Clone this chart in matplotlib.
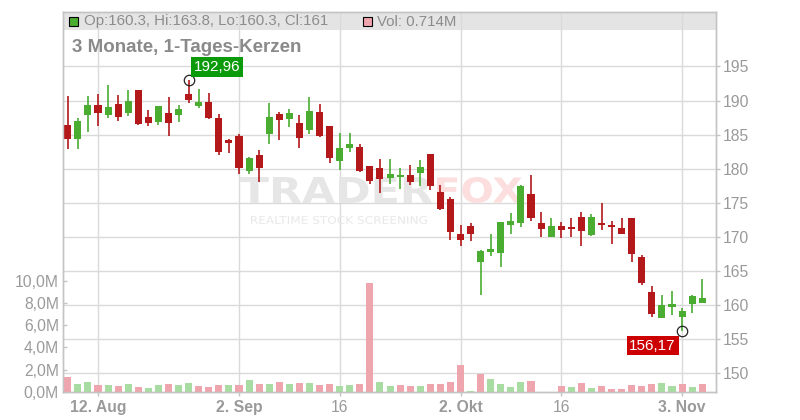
import matplotlib
matplotlib.use('Agg')
import matplotlib.pyplot as plt
from matplotlib.patches import Rectangle, PathPatch
from matplotlib.textpath import TextPath
from matplotlib.font_manager import FontProperties
from matplotlib.transforms import Affine2D

# ---------------- data ----------------
opens = [186.4, 184.4, 187.9, 189.35, 187.9, 189.5, 188.2, 191.55, 187.6, 186.85,
         188.2, 187.9, 190.9, 189.25, 189.8, 187.45, 184.2, 184.8, 179.7, 182.0,
         185.05, 188.05, 187.35, 186.7, 185.75, 188.35, 186.25, 181.2, 183.1, 183.2,
         180.4, 180.1, 178.7, 178.8, 179.1, 179.4, 182.15, 176.6, 175.55, 170.4,
         171.6, 166.35, 167.85, 167.7, 171.8, 172.0, 176.3, 172.0, 170.05, 171.6,
         171.45, 172.95, 170.35, 172.1, 171.8, 171.3, 172.85, 167.05, 161.9, 158.15,
         159.7, 158.3, 160.2, 160.3]
highs = [190.6, 187.5, 190.7, 191.0, 192.3, 190.8, 191.55, 191.6, 188.6, 189.2,
         190.55, 189.35, 192.96, 191.65, 191.1, 188.05, 184.35, 185.1, 181.75, 182.75,
         189.65, 188.3, 188.7, 187.9, 190.55, 189.5, 186.3, 185.3, 185.3, 183.65,
         180.45, 181.45, 181.45, 180.1, 180.55, 181.3, 182.2, 177.6, 175.8, 171.75,
         172.0, 168.1, 170.5, 172.25, 173.55, 177.6, 179.1, 173.7, 172.85, 172.25,
         172.85, 173.7, 173.3, 175.0, 172.4, 172.85, 172.85, 167.3, 162.8, 161.5,
         162.05, 159.6, 161.5, 163.8]
lows = [182.9, 182.9, 185.4, 186.3, 187.5, 187.0, 187.8, 186.45, 186.3, 186.45,
        184.8, 186.85, 189.7, 188.95, 187.35, 182.05, 182.35, 179.2, 179.3, 178.1,
        183.7, 184.2, 186.15, 183.1, 185.05, 184.6, 180.9, 179.8, 182.5, 179.55,
        177.8, 176.5, 177.8, 177.0, 177.6, 177.45, 176.9, 173.95, 169.55, 168.7,
        169.45, 161.55, 167.2, 165.65, 170.45, 171.5, 172.4, 170.05, 170.05, 169.9,
        170.05, 168.65, 170.2, 171.0, 168.95, 170.45, 166.3, 162.95, 158.3, 158.15,
        158.55, 156.17, 158.9, 160.3]
closes = [184.4, 187.0, 189.35, 188.2, 189.05, 187.65, 190.0, 186.55, 186.75, 189.2,
          186.75, 188.75, 190.1, 189.8, 187.5, 182.5, 183.8, 180.15, 181.6, 180.15,
          187.6, 187.2, 188.2, 184.55, 188.45, 184.85, 181.65, 183.05, 183.65, 179.7,
          178.25, 178.45, 179.25, 179.1, 178.1, 180.25, 177.5, 174.1, 170.75, 169.6,
          170.45, 167.95, 168.25, 172.2, 172.4, 177.45, 172.8, 171.1, 171.6, 171.0,
          171.2, 170.85, 172.95, 171.75, 171.5, 170.45, 167.5, 163.25, 158.7, 160.0,
          160.15, 159.15, 161.35, 161.0]
volumes = [1.38, 0.75, 0.93, 0.66, 0.66, 0.57, 0.75, 0.48, 0.39, 0.63,
           0.75, 0.66, 0.84, 0.57, 0.48, 0.66, 0.66, 0.66, 1.11, 0.75,
           0.75, 0.93, 0.75, 0.84, 0.84, 0.66, 0.75, 0.57, 0.66, 0.75,
           9.82, 0.93, 0.57, 0.66, 0.57, 0.57, 0.75, 0.75, 0.93, 2.45,
           0.12, 1.65, 1.18, 0.74, 0.47, 0.92, 1.0, 0.0, 0.0, 0.56,
           0.47, 0.83, 0.38, 0.56, 0.29, 0.29, 0.65, 0.56, 0.74, 0.83,
           0.56, 0.74, 0.47, 0.714]
date_tick_idx = [3, 17, 27, 39, 49, 61]
date_tick_labels = ['12. Aug', '2. Sep', '16', '2. Okt', '16', '3. Nov']
date_tick_bold = [True, True, False, True, False, True]
price_ticks = [150, 155, 160, 165, 170, 175, 180, 185, 190, 195]
vol_ticks = [0, 2, 4, 6, 8, 10]
vol_tick_labels = ['0,0M', '2,0M', '4,0M', '6,0M', '8,0M', '10,0M']
title_text = '3 Monate, 1-Tages-Kerzen'

# ---------------- style ----------------
plt.rcParams['font.family'] = ['Liberation Sans', 'DejaVu Sans']
GREEN = '#4aad32'
RED = '#b3181b'
VGREEN = '#a9dca2'
VRED = '#efa5ad'
GRID = '#dadada'
SPINE = '#c4c4c4'
TXT = '#9a9a9a'

W, H = 800, 420
L, R, T, B = 63, 716, 12, 392
fig = plt.figure(figsize=(W / 100, H / 100), dpi=100)
ax = fig.add_axes([L / W, 1 - B / H, (R - L) / W, (B - T) / H])
ax.set_xlim(-0.477, 64.37)
ax.set_ylim(147.26, 202.99)
ax2 = ax.twinx()
ax2.set_ylim(0, 34.14)


def pax(x, y):
    """pixel (top-left origin) -> axes fraction"""
    return ((x - L) / (R - L), (B - y) / (B - T))


def stretched_text(a, s, x0, x1, ytop, ybot, color, weight='bold', z=0.6):
    """Draw text stretched to fill a pixel box (top-left origin)."""
    tp = TextPath((0, 0), s, size=1, prop=FontProperties(family='DejaVu Sans', weight=weight))
    ext = tp.get_extents()
    sx = (x1 - x0) / ext.width
    sy = (ybot - ytop) / ext.height
    tr = Affine2D().translate(-ext.x0, -ext.y0).scale(sx, sy).translate(x0, H - ybot)
    a.add_patch(PathPatch(tp, transform=tr, facecolor=color, edgecolor='none', zorder=z))


# header band
ax.add_patch(Rectangle(pax(L, 30), 1, 18 / (B - T), transform=ax.transAxes,
                       facecolor='#e4e4e4', edgecolor='none', zorder=0.2))

# grid
for p in price_ticks:
    ax.axhline(p, color=GRID, lw=1.0, zorder=0.5)
for i in date_tick_idx:
    ax.axvline(i, color=GRID, lw=1.0, zorder=0.5)

# watermark
stretched_text(ax, 'TRADER', 240, 432, 177, 203, '#e6e6e6', weight='heavy')
stretched_text(ax, 'FOX', 437, 522, 177, 203, '#fcdede', weight='heavy')
stretched_text(ax, 'REALTIME STOCK SCREENING', 251, 427, 216, 224, '#e8e8e8', weight='normal')

# candles
n = len(opens)
xs = list(range(n))
for i in xs:
    o, h, l, c = opens[i], highs[i], lows[i], closes[i]
    col = GREEN if c >= o else RED
    ax.vlines(i, l, h, color=col, lw=1.2, zorder=2)
    bot = min(o, c)
    hgt = max(abs(c - o), 0.18)
    ax.bar(i, hgt, bottom=bot, width=0.7, color=col, zorder=3, linewidth=0)

# volume
vcols = []
for i in xs:
    if i == 0:
        up = closes[i] >= opens[i]
    else:
        up = closes[i] >= closes[i - 1]
    vcols.append(VGREEN if up else VRED)
ax2.bar(xs, volumes, width=0.7, color=vcols, linewidth=0, zorder=2)

# extremes annotations
imax = max(xs, key=lambda k: highs[k])
imin = min(xs, key=lambda k: lows[k])
ax.plot([imax], [highs[imax]], 'o', ms=7.5, mfc='none', mec='#222222', mew=0.9, zorder=5)
ax.plot([imin], [lows[imin]], 'o', ms=7.5, mfc='none', mec='#222222', mew=0.9, zorder=5)
ax.annotate(f"{highs[imax]:.2f}".replace('.', ','), (imax, highs[imax]),
            xytext=(28.5, 13.5), textcoords='offset pixels', ha='center', va='center',
            fontsize=11, color='white', zorder=6,
            bbox=dict(boxstyle='square,pad=0.18', fc='#0a9a0a', ec='none'))
ax.annotate(f"{lows[imin]:.2f}".replace('.', ','), (imin, lows[imin]),
            xytext=(-29.5, -14.5), textcoords='offset pixels', ha='center', va='center',
            fontsize=11, color='white', zorder=6,
            bbox=dict(boxstyle='square,pad=0.18', fc='#cc0000', ec='none'))

# header contents
ax.add_patch(Rectangle(pax(69, 26), 9 / (R - L), 9 / (B - T), transform=ax.transAxes,
                       facecolor=GREEN, edgecolor='black', lw=0.8, zorder=4))
ax.text(*pax(84, 21.5),
        f"Op:{opens[-1]:g}, Hi:{highs[-1]:g}, Lo:{lows[-1]:g}, Cl:{closes[-1]:g}",
        transform=ax.transAxes, ha='left', va='center', fontsize=10.8, color='#8c8c8c', zorder=4)
ax.add_patch(Rectangle(pax(363, 26), 9 / (R - L), 9 / (B - T), transform=ax.transAxes,
                       facecolor=VRED, edgecolor='black', lw=0.8, zorder=4))
ax.text(*pax(377, 21.5), f"Vol: {volumes[-1]:g}M", transform=ax.transAxes,
        ha='left', va='center', fontsize=10.8, color='#8c8c8c', zorder=4)
ax.text(*pax(72, 47.5), title_text, transform=ax.transAxes, ha='left', va='center',
        fontsize=13.5, fontweight='bold', color='#8a8a8a', zorder=4)

# axes styling
for a in (ax, ax2):
    for s in a.spines.values():
        s.set_color(SPINE)
        s.set_linewidth(1.0)

ax.yaxis.tick_right()
ax.set_yticks(price_ticks)
ax.set_yticklabels([str(p) for p in price_ticks])
ax.tick_params(axis='y', direction='out', length=3, width=1, color=SPINE,
               labelcolor=TXT, labelsize=11.3, pad=2)
ax.set_xticks(date_tick_idx)
ax.set_xticklabels(date_tick_labels)
ax.tick_params(axis='x', direction='out', length=3, width=1, color=SPINE,
               labelcolor=TXT, labelsize=11.3, pad=3)
for lab, b in zip(ax.get_xticklabels(), date_tick_bold):
    lab.set_fontweight('bold' if b else 'normal')

ax2.yaxis.tick_left()
ax2.set_yticks(vol_ticks)
ax2.set_yticklabels(vol_tick_labels)
ax2.tick_params(axis='y', direction='in', length=3, width=1, color=SPINE,
                labelcolor=TXT, labelsize=11.3, pad=3)

fig.savefig('out.png', dpi=100)
